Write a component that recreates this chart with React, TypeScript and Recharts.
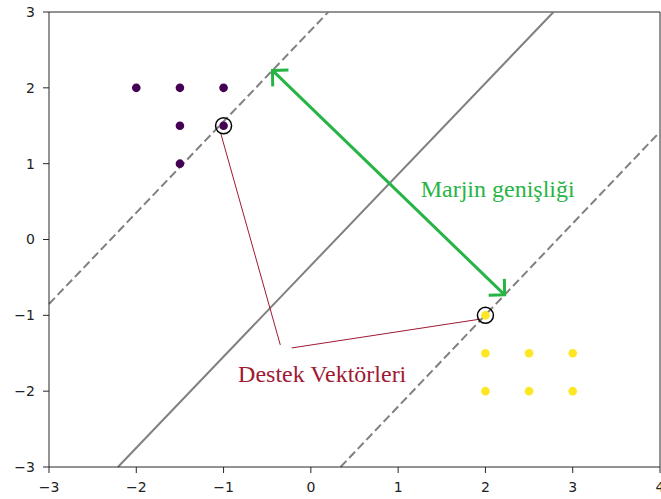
import React from 'react';
import {
  ComposedChart,
  Scatter,
  XAxis,
  YAxis,
  ReferenceLine,
  ReferenceDot,
} from 'recharts';

// sinif noktalari
const purplePoints = [
  { x: -2, y: 2 },
  { x: -1.5, y: 2 },
  { x: -1, y: 2 },
  { x: -1.5, y: 1.5 },
  { x: -1, y: 1.5 },
  { x: -1.5, y: 1 },
];

const yellowPoints = [
  { x: 2, y: -1 },
  { x: 2, y: -1.5 },
  { x: 2.5, y: -1.5 },
  { x: 3, y: -1.5 },
  { x: 2, y: -2 },
  { x: 2.5, y: -2 },
  { x: 3, y: -2 },
];

const supportVectors = [
  { x: -1, y: 1.5 },
  { x: 2, y: -1 },
];

// cizgi uc noktalari
const boundaryLine = [{ x: -2.21, y: -3 }, { x: 2.78, y: 3 }];
const upperMargin = [{ x: -3, y: -0.85 }, { x: 0.2, y: 3 }];
const lowerMargin = [{ x: 0.34, y: -3 }, { x: 4, y: 1.42 }];

const marginArrow = [{ x: -0.44, y: 2.23 }, { x: 2.22, y: -0.73 }];
const marginLabel = { x: 2.14, y: 0.56, text: 'Marjin genişliği' };

const svLabel = { x: 0.13, y: -1.88, text: 'Destek Vektörleri' };
const svPointers = [
  [{ x: -0.35, y: -1.39 }, { x: -1.03, y: 1.39 }],
  [{ x: -0.22, y: -1.43 }, { x: 1.94, y: -1.05 }],
];

const xTicks = [-3, -2, -1, 0, 1, 2, 3, 4];
const yTicks = [-3, -2, -1, 0, 1, 2, 3];

const GREEN = '#27b446';
const RED = '#9e1a32';
const GRAY = '#808080';
const AXIS = '#262626';

const fmt = (v: number) => String(v).replace('-', '\u2212');

const DoubleArrow = (props: any) => {
  const { x1, y1, x2, y2 } = props;
  const ang = Math.atan2(y2 - y1, x2 - x1);
  const len = 16;
  const spread = Math.PI / 4;
  const head = (tx: number, ty: number, back: number) => {
    const ax = tx + len * Math.cos(back + spread);
    const ay = ty + len * Math.sin(back + spread);
    const bx = tx + len * Math.cos(back - spread);
    const by = ty + len * Math.sin(back - spread);
    return `${ax},${ay} ${tx},${ty} ${bx},${by}`;
  };
  return (
    <g>
      <line x1={x1} y1={y1} x2={x2} y2={y2} stroke={GREEN} strokeWidth={3} />
      <polyline points={head(x1, y1, ang)} fill="none" stroke={GREEN} strokeWidth={3} />
      <polyline points={head(x2, y2, ang + Math.PI)} fill="none" stroke={GREEN} strokeWidth={3} />
    </g>
  );
};

const labelShape = (text: string, color: string) => (props: any) => (
  <text
    x={props.cx}
    y={props.cy}
    textAnchor="middle"
    fill={color}
    fontSize={24}
    fontFamily="'Liberation Serif', serif"
  >
    {text}
  </text>
);

export default function App() {
  return (
    <div style={{ position: 'absolute', left: 0, top: 0 }}>
      <ComposedChart
        width={661}
        height={499}
        margin={{ top: 12, right: 1, bottom: 0, left: 0 }}
      >
        <XAxis
          type="number"
          dataKey="x"
          domain={[-3, 4]}
          ticks={xTicks}
          interval={0}
          allowDataOverflow
          height={32}
          tickSize={6}
          tickMargin={9}
          tickFormatter={fmt}
          stroke={AXIS}
          tick={{ fill: '#222', fontSize: 14, fontFamily: 'DejaVu Sans' }}
        />
        <YAxis
          type="number"
          dataKey="y"
          domain={[-3, 3]}
          ticks={yTicks}
          interval={0}
          allowDataOverflow
          width={49}
          tickSize={6}
          tickMargin={8}
          tickFormatter={fmt}
          stroke={AXIS}
          tick={{ fill: '#222', fontSize: 14, fontFamily: 'DejaVu Sans' }}
        />
        <ReferenceLine y={3} stroke={AXIS} strokeWidth={1} />
        <ReferenceLine x={4} stroke={AXIS} strokeWidth={1} />

        <ReferenceLine segment={boundaryLine} stroke={GRAY} strokeWidth={2} />
        <ReferenceLine segment={upperMargin} stroke={GRAY} strokeWidth={2} strokeDasharray="8.5 4" />
        <ReferenceLine segment={lowerMargin} stroke={GRAY} strokeWidth={2} strokeDasharray="8.5 4" />

        <Scatter
          data={purplePoints}
          isAnimationActive={false}
          shape={(p: any) => <circle cx={p.cx} cy={p.cy} r={4.3} fill="#440154" />}
        />
        <Scatter
          data={yellowPoints}
          isAnimationActive={false}
          shape={(p: any) => <circle cx={p.cx} cy={p.cy} r={4.3} fill="#fde725" />}
        />
        <Scatter
          data={supportVectors}
          isAnimationActive={false}
          shape={(p: any) => (
            <circle cx={p.cx} cy={p.cy} r={8} fill="none" stroke="#000" strokeWidth={1.5} />
          )}
        />

        <ReferenceLine segment={marginArrow} shape={DoubleArrow} />
        <ReferenceDot
          x={marginLabel.x}
          y={marginLabel.y}
          shape={labelShape(marginLabel.text, GREEN)}
        />

        {svPointers.map((seg, i) => (
          <ReferenceLine key={i} segment={seg} stroke={RED} strokeWidth={1} />
        ))}
        <ReferenceDot x={svLabel.x} y={svLabel.y} shape={labelShape(svLabel.text, RED)} />
      </ComposedChart>
    </div>
  );
}
